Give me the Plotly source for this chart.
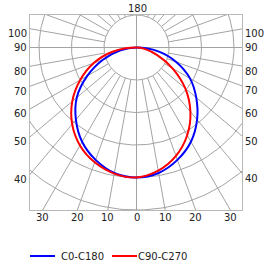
import numpy as np
import plotly.graph_objects as go

# ---- data (intensity vs gamma angle, arbitrary units; grid circles every 100) ----
gamma = [0, 10, 20, 30, 40, 50, 60, 70, 80, 90]
c0 = [400, 392, 368, 335, 290, 240, 190, 130, 68, 0]
c180 = [400, 392, 368, 335, 290, 240, 175, 110, 50, 0]
c90 = [400, 385, 355, 312, 258, 196, 128, 68, 25, 0]
c270 = [400, 394, 376, 348, 308, 258, 200, 140, 75, 0]

circle_radii = [100, 200, 300, 400, 500]
side_labels = [100, 90, 80, 70, 60, 50, 40]
bottom_labels = [30, 20, 10, 0, 10, 20, 30]
bottom_sides = [-1, -1, -1, 0, 1, 1, 1]
top_label = "180"
series_names = ["C0-C180", "C90-C270"]
series_colors = ["#0000ff", "#ff0000"]

# ---- layout geometry ----
W, H = 275, 266
ML, MR, MT, MB = 30, 33, 15, 56
XMIN, XMAX = -327.7, 324.6
YMIN, YMAX = -500, 100
GRID = "#a3a3a3"
FONT = "DejaVu Sans"


def half_curve(vals, side):
    g = np.radians(gamma)
    v = np.array(vals, dtype=float)
    return side * v * np.sin(g), -v * np.cos(g)


def full_curve(left, right):
    xl, yl = half_curve(left, -1)
    xr, yr = half_curve(right, 1)
    x = np.concatenate([xl[::-1], xr[1:]])
    y = np.concatenate([yl[::-1], yr[1:]])
    return x, y


fig = go.Figure()

# grid circles
gx, gy = [], []
t = np.linspace(0, 2 * np.pi, 241)
for r in circle_radii:
    gx += list(r * np.cos(t)) + [None]
    gy += list(r * np.sin(t)) + [None]
# radial lines every 10 degrees from the inner circle outward
for a in range(0, 360, 10):
    ar = np.radians(a)
    if a % 90 == 0:
        continue
    r0, r1 = circle_radii[0], 2000
    gx += [r0 * np.sin(ar), r1 * np.sin(ar), None]
    gy += [-r0 * np.cos(ar), -r1 * np.cos(ar), None]
# main axes through the centre
gx += [-2000, 2000, None, 0, 0, None]
gy += [0, 0, None, -2000, 2000, None]
fig.add_trace(go.Scatter(x=gx, y=gy, mode="lines", line=dict(color=GRID, width=1),
                         hoverinfo="skip", showlegend=False))

for name, color, (l, r) in zip(series_names, series_colors, [(c180, c0), (c270, c90)]):
    x, y = full_curve(l, r)
    fig.add_trace(go.Scatter(x=x, y=y, mode="lines", name=name,
                             line=dict(color=color, width=2, shape="spline", smoothing=1),
                             showlegend=False))

ann = []
# side labels (angle where the radial line hits the frame)
for a in side_labels:
    ar = np.radians(a)
    for xe, anchor, xs in [(XMIN, "right", -2), (XMAX, "left", 2)]:
        ye = -np.cos(ar) * abs(xe) / np.sin(ar)
        ann.append(dict(x=xe, y=ye, text=str(a), showarrow=False, xanchor=anchor,
                        yanchor="middle", xshift=xs, yshift=0 if a == 90 else -5,
                        font=dict(family=FONT, size=10, color="#222222"), borderpad=0))
# bottom labels
for a, s in zip(bottom_labels, bottom_sides):
    xb = s * abs(YMIN) * np.tan(np.radians(a))
    ann.append(dict(x=xb, y=YMIN, text=str(a), showarrow=False, xanchor="center",
                    yanchor="top", yshift=-1,
                    font=dict(family=FONT, size=10, color="#222222"), borderpad=0))
# top label
ann.append(dict(x=0, y=YMAX, text=top_label, showarrow=False, xanchor="center",
                yanchor="bottom", yshift=0, xshift=1,
                font=dict(family=FONT, size=10, color="#222222"), borderpad=0))


def px2paper_x(px):
    return (px - ML) / (W - ML - MR)


def px2paper_y(py):
    return (H - MB - py) / (H - MT - MB)


shapes = []
leg_y = px2paper_y(256)
for (x0, x1, tx), name, color in zip([(30, 55, 60), (112, 137, 137)], series_names, series_colors):
    shapes.append(dict(type="line", xref="paper", yref="paper",
                       x0=px2paper_x(x0), x1=px2paper_x(x1), y0=leg_y, y1=leg_y,
                       line=dict(color=color, width=2)))
    ann.append(dict(xref="paper", yref="paper", x=px2paper_x(tx), y=leg_y, text=name,
                    showarrow=False, xanchor="left", yanchor="middle", borderpad=0,
                    font=dict(family=FONT, size=10, color="#222222")))

fig.update_layout(
    width=W, height=H, autosize=False,
    margin=dict(l=ML, r=MR, t=MT, b=MB, pad=0),
    paper_bgcolor="white", plot_bgcolor="white",
    xaxis=dict(range=[XMIN, XMAX], showgrid=False, zeroline=False, showticklabels=False,
               ticks="", showline=True, mirror=True, linecolor="#b8b8b8", linewidth=1,
               fixedrange=True),
    yaxis=dict(range=[YMIN, YMAX], showgrid=False, zeroline=False, showticklabels=False,
               ticks="", showline=True, mirror=True, linecolor="#b8b8b8", linewidth=1,
               fixedrange=True),
    annotations=ann, shapes=shapes, showlegend=False,
)

fig.write_html("out.html", config=dict(displayModeBar=False))
